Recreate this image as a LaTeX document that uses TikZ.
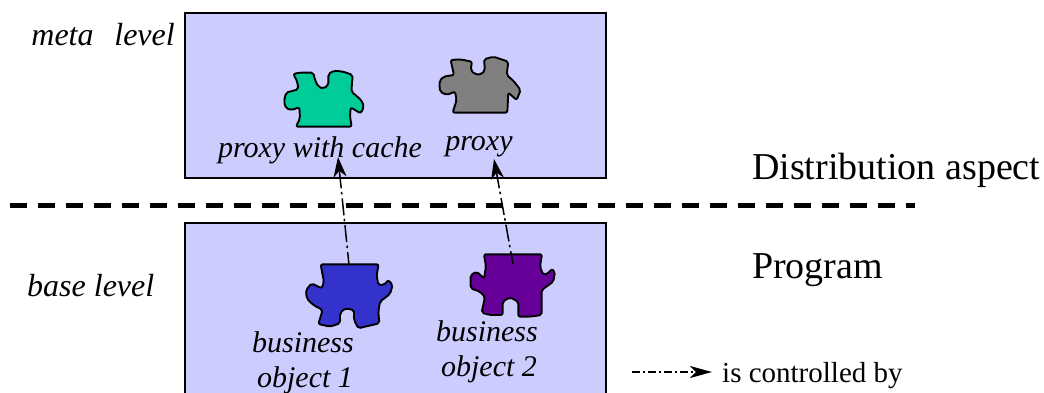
\documentclass[tikz,border=0pt]{standalone}
\usepackage{fontspec}
\setmainfont{Liberation Serif}
\usetikzlibrary{arrows.meta}
\definecolor{boxfill}{RGB}{204,204,255}
\definecolor{pgreen}{RGB}{0,204,153}
\definecolor{pgray}{RGB}{128,128,128}
\definecolor{pblue}{RGB}{51,51,204}
\definecolor{ppurple}{RGB}{102,0,153}
\tikzset{
  x=1pt,y=-1pt,
  panel/.style={draw=black,line width=2pt,fill=boxfill},
  piece/.style={draw=black,line width=1.9pt,line join=round,rounded corners=2pt},
  lab/.style={font=\itshape\fontsize{30}{34}\selectfont,inner sep=0pt,align=center},
  sidelab/.style={font=\itshape\fontsize{32}{36}\selectfont,inner sep=0pt},
  big/.style={font=\fontsize{38}{42}\selectfont,inner sep=0pt,anchor=base west},
  ctrl/.style={line width=1.5pt,dash pattern=on 17pt off 4pt on 2.5pt off 3.5pt,dash phase=4pt,-{Stealth[length=20pt,width=13pt,inset=6pt]}},
  legendarrow/.style={line width=1.7pt,dash pattern=on 8pt off 3pt on 2pt off 3pt,-{Stealth[length=22pt,width=12pt,inset=6pt]}},
  sep/.style={line width=5pt,dash pattern=on 17pt off 11pt},
}
\begin{document}
\begin{tikzpicture}
\useasboundingbox (0,0) rectangle (1044,392);
\clip (0,0) rectangle (1044,392);
\fill[white] (0,0) rectangle (1044,392);
\draw[panel] (185,13) rectangle (606,178);
\draw[panel] (185,223) rectangle (606,400);
% green
\draw[piece,fill=pgreen,shift={(260,50)},x=0.3333pt,y=-0.3333pt] (100,72)--(118,68)--(160,68)--(165,90)--(175,110)--(190,116)--(205,105)--(205,72)--(222,62)--(250,65)--(278,75)--(274,125)--(290,138)--(305,152)--(312,170)--(302,190)--(285,180)--(272,172)--(270,200)--(275,230)--(108,230)--(120,205)--(118,172)--(95,180)--(78,175)--(72,155)--(78,128)--(100,122)--(115,118)--(112,95)--cycle;
% gray
\draw[piece,fill=pgray,shift={(260,50)},x=0.3333pt,y=-0.3333pt] (572,30)--(600,28)--(636,35)--(632,60)--(645,73)--(665,73)--(675,60)--(672,28)--(700,20)--(745,35)--(740,75)--(760,92)--(782,120)--(770,150)--(745,128)--(742,188)--(578,188)--(590,150)--(585,125)--(560,135)--(540,125)--(538,95)--(550,80)--(582,75)--cycle;
% blue
\draw[piece,fill=pblue,shift={(280,220)},x=0.3333pt,y=-0.3333pt] (122,133)--(296,133)--(290,165)--(295,195)--(312,195)--(325,180)--(338,195)--(330,222)--(300,245)--(295,275)--(298,310)--(255,320)--(235,325)--(222,300)--(222,270)--(195,265)--(180,280)--(180,310)--(150,320)--(115,312)--(128,270)--(100,255)--(80,235)--(78,210)--(95,190)--(125,205)--(132,185)--(125,150)--cycle;
% purple
\draw[piece,fill=ppurple,shift={(280,220)},x=0.3333pt,y=-0.3333pt] (612,103)--(786,103)--(780,140)--(790,165)--(805,160)--(815,147)--(825,155)--(820,185)--(785,210)--(785,285)--(750,290)--(715,290)--(715,245)--(690,232)--(668,245)--(668,285)--(630,285)--(605,278)--(615,230)--(600,215)--(572,205)--(572,165)--(590,155)--(612,175)--(618,140)--cycle;
\node[sidelab,anchor=base east] (metal) at (175,45) {meta\hspace{0.65em}level};
\node[sidelab,anchor=base west] (basel) at (27,296) {base level};
\node[lab,anchor=base] (proxycache) at (320,157) {proxy with cache};
\node[lab,anchor=base] (proxyl) at (479,150) {proxy};
\node[lab,anchor=base] (bo1a) at (303,352) {business};
\node[lab,anchor=base] (bo1b) at (305,387) {object 1};
\node[lab,anchor=base] (bo2a) at (487,341) {business};
\node[lab,anchor=base] (bo2b) at (489,376) {object 2};
\node[big] (dist) at (752,179) {Distribution aspect};
\node[big] (prog) at (752,278) {Program};
\node[font=\fontsize{29}{33}\selectfont,inner sep=0pt,anchor=base west] (ctrltext) at (722,382) {is controlled by};
\coordinate (a1s) at (349,265);
\coordinate (a1e) at (338,157);
\coordinate (a2s) at (513,264);
\coordinate (a2e) at (494,159);
\coordinate (ls) at (632,372);
\coordinate (le) at (712,372);
\coordinate (sl) at (10,205);
\coordinate (sr) at (915,205);
\draw[ctrl] (a1s) -- (a1e);
\draw[ctrl] (a2s) -- (a2e);
\draw[legendarrow] (ls) -- (le);
\draw[sep] (sl) -- (sr);
\end{tikzpicture}
\end{document}
